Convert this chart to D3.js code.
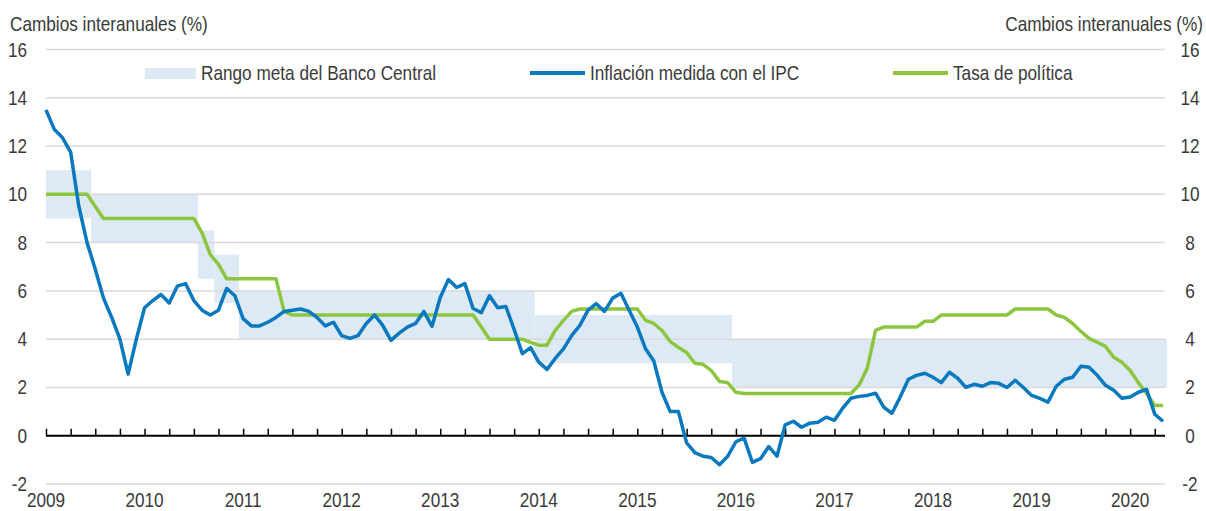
<!DOCTYPE html>
<html>
<head>
<meta charset="utf-8">
<script src="https://cdn.jsdelivr.net/npm/d3@7"></script>
<style>
  body { margin: 0; background: #fff; }
  svg text { font-family: "Liberation Sans Narrow", "Arial Narrow", "Liberation Sans", sans-serif; fill: #3a3a3a; font-size: 20px; }
</style>
</head>
<body>
<svg id="chart" width="1206" height="511"></svg>
<script>
// monthly data, Jan 2009 .. May 2020
var years = ["2009", "2010", "2011", "2012", "2013", "2014", "2015", "2016", "2017", "2018", "2019", "2020"];
var yTicks = [-2, 0, 2, 4, 6, 8, 10, 12, 14, 16];

var inflation = [
    13.5, 12.7, 12.35, 11.75, 9.5, 8.0, 6.9, 5.7, 4.9, 4.0, 2.55, 4.0,
    5.3, 5.6, 5.85, 5.5, 6.2, 6.3, 5.6, 5.2, 5.0, 5.2, 6.1, 5.8,
    4.85, 4.55, 4.55, 4.7, 4.9, 5.15, 5.2, 5.25, 5.15, 4.9, 4.55, 4.7,
    4.15, 4.03, 4.15, 4.65, 5.0, 4.57, 3.95, 4.25, 4.5, 4.65, 5.15, 4.53,
    5.73, 6.47, 6.14, 6.3, 5.27, 5.1, 5.8, 5.3, 5.35, 4.4, 3.4, 3.65,
    3.05, 2.75, 3.2, 3.6, 4.15, 4.57, 5.2, 5.47, 5.15, 5.7, 5.9, 5.2,
    4.5, 3.6, 3.1, 1.8, 1.0, 1.0, -0.3, -0.7, -0.85, -0.9, -1.2, -0.85,
    -0.25, -0.1, -1.1, -0.95, -0.45, -0.85, 0.45, 0.6, 0.35, 0.52, 0.56, 0.77,
    0.64, 1.14, 1.55, 1.63, 1.67, 1.76, 1.18, 0.93, 1.6, 2.34, 2.5, 2.59,
    2.42, 2.2, 2.63, 2.38, 2.0, 2.13, 2.05, 2.2, 2.17, 2.0, 2.3, 2.0,
    1.67, 1.55, 1.39, 2.05, 2.34, 2.42, 2.88, 2.84, 2.5, 2.09, 1.88, 1.55,
    1.6, 1.8, 1.92, 0.89, 0.6
];

var policyRate = [
    10, 10, 10, 10, 10, 10, 9.5, 9, 9, 9, 9, 9,
    9, 9, 9, 9, 9, 9, 9, 8.4, 7.5, 7.1, 6.5, 6.5,
    6.5, 6.5, 6.5, 6.5, 6.5, 5.15, 5, 5, 5, 5, 5, 5,
    5, 5, 5, 5, 5, 5, 5, 5, 5, 5, 5, 5,
    5, 5, 5, 5, 5, 4.5, 4, 4, 4, 4, 4, 3.87,
    3.75, 3.75, 4.36, 4.78, 5.15, 5.25, 5.25, 5.25, 5.25, 5.25, 5.25, 5.25,
    5.25, 4.78, 4.65, 4.36, 3.9, 3.66, 3.45, 3.0, 2.96, 2.7, 2.25, 2.2,
    1.8, 1.75, 1.75, 1.75, 1.75, 1.75, 1.75, 1.75, 1.75, 1.75, 1.75, 1.75,
    1.75, 1.75, 1.75, 2.1, 2.8, 4.36, 4.5, 4.5, 4.5, 4.5, 4.5, 4.74,
    4.74, 5, 5, 5, 5, 5, 5, 5, 5, 5, 5.25, 5.25,
    5.25, 5.25, 5.25, 5.0, 4.9, 4.65, 4.32, 4.03, 3.87, 3.7, 3.25, 3.04,
    2.7, 2.2, 1.75, 1.25, 1.25
];

// target range: month index where each band starts / ends, low and high
var bandStart = [0, 5.5, 18.5, 20.5, 23.5, 59.5, 83.5];
var bandEnd = [5.5, 18.5, 20.5, 23.5, 59.5, 83.5, 136.5];
var bandLow = [9, 8, 6.5, 5.5, 4, 3, 2];
var bandHigh = [11, 10, 8.5, 7.5, 6, 5, 4];

var blue = "#0878bf", green = "#8cc63f", bandColor = "#dde9f5";

var svg = d3.select("#chart");
var left = 46, right = 1165;
var squeeze = 0.86; // narrow the font, no condensed face installed

var x = d3.scaleLinear().domain([0, 136]).range([46, 1163]);
var y = d3.scaleLinear().domain([-2, 16]).range([484, 49.5]);

function label(g, tx, ty, str, anchor) {
    return g.append("text")
        .attr("transform", "translate(" + tx + "," + ty + ") scale(" + squeeze + ",1)")
        .attr("text-anchor", anchor || "start")
        .text(str);
}

// bands
svg.append("g").selectAll("rect")
    .data(bandStart)
    .enter().append("rect")
    .attr("x", function (d) { return x(d); })
    .attr("width", function (d, i) { return x(bandEnd[i]) - x(d); })
    .attr("y", function (d, i) { return y(bandHigh[i]); })
    .attr("height", function (d, i) { return y(bandLow[i]) - y(bandHigh[i]); })
    .attr("fill", bandColor);

// gridlines
svg.append("g").selectAll("line")
    .data(yTicks.filter(function (d) { return d != 0; }))
    .enter().append("line")
    .attr("x1", left).attr("x2", right)
    .attr("y1", function (d) { return y(d); })
    .attr("y2", function (d) { return y(d); })
    .attr("stroke", "#d9d9d9")
    .attr("stroke-width", 1.5);

// zero axis with quarterly ticks
var xAxis = d3.axisTop(x)
    .tickValues(d3.range(0, 137, 3))
    .tickSize(7)
    .tickFormat("");
var xg = svg.append("g")
    .attr("transform", "translate(0," + y(0) + ")")
    .call(xAxis);
xg.select(".domain").remove();
xg.selectAll(".tick line").attr("stroke", "#000").attr("stroke-width", 1.5);
svg.append("line")
    .attr("x1", left).attr("x2", right)
    .attr("y1", y(0)).attr("y2", y(0))
    .attr("stroke", "#000").attr("stroke-width", 2);

// year labels
var yearG = svg.append("g");
years.forEach(function (d, i) { label(yearG, x(i * 12), 507, d, "middle"); });

// y labels, both sides
var yl = svg.append("g");
yTicks.forEach(function (d) {
    label(yl, 27, y(d) + 7, d, "end");
    label(yl, 1190, y(d) + 7, d, "middle");
});

// axis titles
label(svg, 10, 31, "Cambios interanuales (%)");
label(svg, 1203, 31, "Cambios interanuales (%)", "end");

// lines
var line = d3.line()
    .x(function (d, i) { return x(i); })
    .y(function (d) { return y(d); });

svg.append("path")
    .datum(policyRate)
    .attr("fill", "none")
    .attr("stroke", green)
    .attr("stroke-width", 3.5)
    .attr("stroke-linejoin", "round")
    .attr("d", line);

svg.append("path")
    .datum(inflation)
    .attr("fill", "none")
    .attr("stroke", blue)
    .attr("stroke-width", 3.5)
    .attr("stroke-linejoin", "round")
    .attr("d", line);

// legend
var lg = svg.append("g");
lg.append("rect").attr("x", 145).attr("y", 68).attr("width", 51).attr("height", 11).attr("fill", bandColor);
label(lg, 201, 80, "Rango meta del Banco Central");
lg.append("line").attr("x1", 530).attr("x2", 585).attr("y1", 73).attr("y2", 73)
    .attr("stroke", blue).attr("stroke-width", 4);
label(lg, 590, 80, "Inflación medida con el IPC");
lg.append("line").attr("x1", 893).attr("x2", 948).attr("y1", 73).attr("y2", 73)
    .attr("stroke", green).attr("stroke-width", 4);
label(lg, 953, 80, "Tasa de política");
</script>
</body>
</html>
